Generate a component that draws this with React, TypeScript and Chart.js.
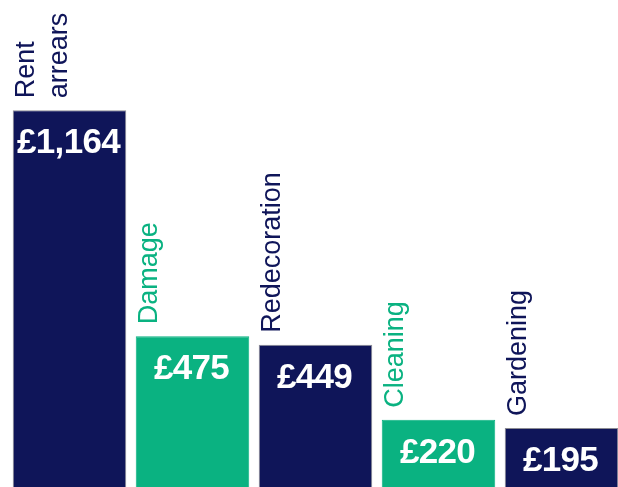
import React, { useEffect, useRef } from "react";
import { Chart, registerables } from "chart.js";

Chart.register(...registerables);

const categories: (string | string[])[] = [["Rent", "arrears"], "Damage", "Redecoration", "Cleaning", "Gardening"];
const values: number[] = [1164, 475, 449, 220, 195];
const valueLabels: string[] = ["£1,164", "£475", "£449", "£220", "£195"];

const NAVY = "#0f1559";
const GREEN = "#0ab281";
const barColors: string[] = [NAVY, GREEN, NAVY, GREEN, NAVY];

const FONT = '"Liberation Sans", Arial, Helvetica, sans-serif';

const labelPlugin = {
  id: "barLabels",
  afterDatasetsDraw(chart: any) {
    const ctx = chart.ctx as CanvasRenderingContext2D;
    const meta = chart.getDatasetMeta(0);
    meta.data.forEach((bar: any, i: number) => {
      const left = bar.x - bar.width / 2;
      const top = bar.y;
      // value label
      ctx.save();
      ctx.fillStyle = "#ffffff";
      ctx.font = `bold 35px ${FONT}`;
      (ctx as any).letterSpacing = "-0.7px";
      ctx.textAlign = "center";
      ctx.textBaseline = "alphabetic";
      ctx.fillText(valueLabels[i], bar.x - 1, top + 43);
      ctx.restore();
      // category label, rotated
      const cat = categories[i];
      const lines = Array.isArray(cat) ? cat : [cat];
      ctx.save();
      ctx.fillStyle = barColors[i];
      ctx.font = `27px ${FONT}`;
      (ctx as any).letterSpacing = "0px";
      ctx.textAlign = "left";
      ctx.textBaseline = "alphabetic";
      lines.forEach((line, j) => {
        ctx.save();
        ctx.translate(left + 21 + j * 33, top - 12);
        ctx.rotate(-Math.PI / 2);
        ctx.fillText(line, 0, 0);
        ctx.restore();
      });
      ctx.restore();
    });
  },
};

export default function App() {
  const ref = useRef<HTMLCanvasElement>(null);
  useEffect(() => {
    document.body.style.margin = "0";
    const chart = new Chart(ref.current!, {
      type: "bar",
      data: {
        labels: categories as any,
        datasets: [
          {
            data: values,
            backgroundColor: barColors,
            borderColor: barColors.map((c) => (c === NAVY ? "rgba(90,90,100,0.7)" : GREEN)),
            borderWidth: 1,
            categoryPercentage: 1,
            barPercentage: 0.923,
          },
        ],
      },
      options: {
        responsive: false,
        devicePixelRatio: 1,
        animation: false,
        layout: { padding: 0 },
        plugins: { legend: { display: false }, tooltip: { enabled: false } },
        scales: {
          x: { display: false, offset: true },
          y: { display: false, min: 0, max: 1500 },
        },
      },
      plugins: [labelPlugin],
    });
    return () => chart.destroy();
  }, []);
  return (
    <div style={{ position: "fixed", left: 0, top: 0, width: 618, height: 487, overflow: "hidden", background: "#fff" }}>
      <div style={{ position: "absolute", left: 8, top: 0, width: 615, height: 492 }}>
        <canvas ref={ref} width={615} height={492} style={{ display: "block" }} />
      </div>
    </div>
  );
}
